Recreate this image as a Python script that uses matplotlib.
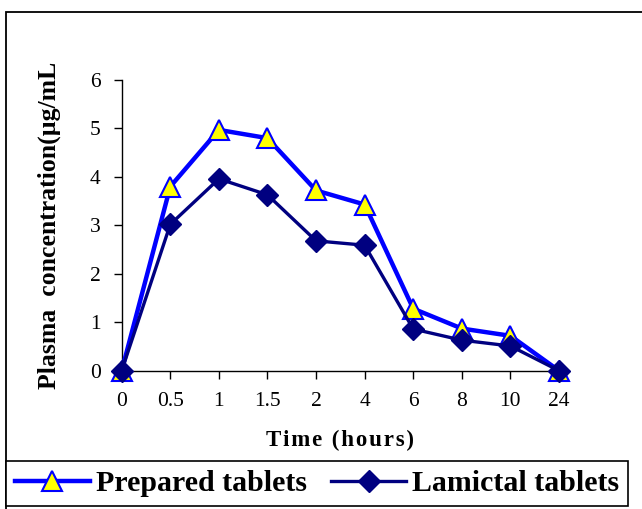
import matplotlib
matplotlib.use("Agg")
import matplotlib.pyplot as plt
from matplotlib.patches import Rectangle

time_labels = ["0", "0.5", "1", "1.5", "2", "4", "6", "8", "10", "24"]
prepared = [0, 3.8, 4.97, 4.8, 3.72, 3.43, 1.28, 0.87, 0.72, 0]
lamictal = [0, 3.02, 3.96, 3.63, 2.68, 2.59, 0.86, 0.63, 0.51, 0]
series_names = ["Prepared tablets", "Lamictal tablets"]
y_ticks = [0, 1, 2, 3, 4, 5, 6]

plt.rcParams["font.family"] = ["Liberation Serif", "DejaVu Serif"]

W, H = 642, 509
fig = plt.figure(figsize=(W / 100, H / 100), dpi=100)

# outer frame
fig.patches.append(Rectangle((6 / W, -0.1), 1.2, 1 - 12 / H + 0.1, transform=fig.transFigure,
                             fill=False, edgecolor="black", linewidth=1.3))

ax = fig.add_axes([121.7 / W, 1 - 370.7 / H, (559 - 121.7) / W, (370.7 - 80) / H])
x = list(range(len(time_labels)))

l1, = ax.plot(x, prepared, color="#0000FF", linewidth=3.2, marker="^", markersize=15,
              markerfacecolor="#FFFF00", markeredgecolor="#0000FF", markeredgewidth=1.5,
              clip_on=False, zorder=3)
l2, = ax.plot(x, lamictal, color="#000080", linewidth=2.4, marker="D", markersize=11,
              markerfacecolor="#000080", markeredgecolor="#000080",
              clip_on=False, zorder=4)

ax.set_xlim(0, len(time_labels) - 1)
ax.set_ylim(0, 6)
ax.set_xticks(x)
ax.set_xticklabels(time_labels)
ax.set_yticks(y_ticks)
ax.tick_params(axis="both", direction="out", length=6, width=1, labelsize=15.5, colors="black")
ax.tick_params(axis="x", pad=9)
ax.tick_params(axis="y", pad=9)
for s in ["top", "right"]:
    ax.spines[s].set_visible(False)
for s in ["left", "bottom"]:
    ax.spines[s].set_linewidth(1.0)
ax.patch.set_alpha(0)

xlabel_text = "\u200a".join("Time (hours)")
ax.set_xlabel(xlabel_text, fontsize=16.5, fontweight="bold", labelpad=14)
ax.set_ylabel("Plasma  concentration(\u00b5g/mL", fontsize=18.5, fontweight="bold", labelpad=21)

leg = fig.legend([l1, l2], series_names, loc="lower left",
                 bbox_to_anchor=(6 / W, 3 / H, 622 / W, 45 / H), mode="expand",
                 ncol=2, frameon=True, fancybox=False, edgecolor="black", framealpha=1,
                 prop={"weight": "bold", "size": 21.5}, handlelength=2.5, handletextpad=0.2,
                 columnspacing=0.5, borderaxespad=0, borderpad=0.3)
leg.get_frame().set_linewidth(1.2)

fig.savefig("out.png", dpi=100)
